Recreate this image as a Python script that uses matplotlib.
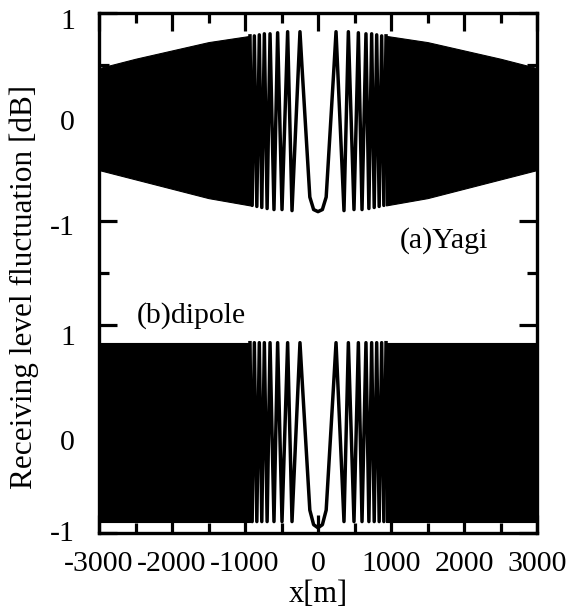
import numpy as np
import matplotlib.pyplot as plt
import matplotlib.transforms as mtrans
from matplotlib.ticker import MultipleLocator

plt.rcParams['font.family'] = 'Liberation Serif'
plt.rcParams['axes.unicode_minus'] = False

# ----- values (x >= 0 side, the pattern is symmetric) -----
# resolvable extrema of the fluctuation near the centre [m], [dB]
x_ext = [0, 60, 112, 178, 219, 247, 356, 416, 493, 553, 603, 657, 697, 735,
         770, 804, 838, 872, 902, 932]
yagi_ext = [-0.91, -0.89, -0.77, 0.0, 0.48, 0.82, -0.90, 0.82, -0.89, 0.81,
            -0.89, 0.80, -0.88, 0.80, -0.87, 0.79, -0.86, 0.78, -0.85, 0.78]
dipole_ext = [-0.95, -0.92, -0.78, 0.0, 0.49, 0.83, -0.89, 0.83, -0.89, 0.83,
              -0.89, 0.83, -0.89, 0.83, -0.89, 0.83, -0.89, 0.83, -0.89, 0.83]

# envelope of the dense (unresolvable) oscillation further out
x_band = [932, 1500, 2000, 2500, 3000]
yagi_up = [0.78, 0.72, 0.64, 0.56, 0.47]
yagi_lo = [-0.85, -0.78, -0.69, -0.60, -0.51]
dipole_up = [0.83, 0.83, 0.83, 0.83, 0.83]
dipole_lo = [-0.89, -0.89, -0.89, -0.89, -0.89]

yagi_offset = 3   # the Yagi trace is drawn shifted up
dipole_offset = 0

ytick_pos = [4, 3, 2, 1, 0, -1]
ytick_lab = ['1', '0', '-1', '1', '0', '-1']
ytick_shift = [9, 6, 7, 13, 14, 1]   # label offsets seen in the figure (px)


def mirror(x, y):
    x = np.asarray(x, float)
    y = np.asarray(y, float)
    return np.concatenate([-x[::-1], x[1:]]), np.concatenate([y[::-1], y[1:]])


fig = plt.figure(figsize=(5.66, 6.10), dpi=100)
ax = fig.add_axes([99 / 566, 1 - 533 / 610, 438 / 566, 520 / 610])

for ext, up, lo, off in [(yagi_ext, yagi_up, yagi_lo, yagi_offset),
                         (dipole_ext, dipole_up, dipole_lo, dipole_offset)]:
    xs, ys = mirror(x_ext, ext)
    ax.plot(xs, ys + off, color='black', lw=2.5, solid_joinstyle='round')
    xb = np.asarray(x_band, float)
    for sgn in (1, -1):
        ax.fill_between(sgn * xb, np.asarray(lo) + off, np.asarray(up) + off,
                        color='black', lw=0.8)

ax.set_xlim(-3000, 3000)
ax.set_ylim(-1, 4)
ax.xaxis.set_major_locator(MultipleLocator(1000))
ax.xaxis.set_minor_locator(MultipleLocator(500))
ax.set_yticks(ytick_pos)
ax.set_yticklabels([])
ax.yaxis.set_minor_locator(MultipleLocator(0.5))

# y labels sit a little below their ticks in the original
blend = mtrans.blended_transform_factory(ax.transAxes, ax.transData)
for pos, lab, dy in zip(ytick_pos, ytick_lab, ytick_shift):
    tr = blend + mtrans.ScaledTranslation(0, -dy / 100, fig.dpi_scale_trans)
    ax.text(-0.055, pos, lab, transform=tr, ha='right', va='center',
            fontsize=21.5, clip_on=False)

ax.tick_params(which='both', direction='in', top=True, right=True, width=2.3,
               labelsize=21.5)
ax.tick_params(which='major', length=13)
ax.tick_params(which='minor', length=7)
ax.tick_params(axis='x', pad=13)
for sp in ax.spines.values():
    sp.set_linewidth(2.4)

ax.set_xlabel('x[m]', fontsize=22, labelpad=2)
fig.text(24 / 566, 1 - 287 / 610, 'Receiving level fluctuation [dB]',
         rotation=90, fontsize=22.5, ha='center', va='center')

ax.text(444 / 566, 1 - 241 / 610, '(a)Yagi', transform=fig.transFigure,
        fontsize=21.5, ha='center', va='center')
ax.text(191 / 566, 1 - 316 / 610, '(b)dipole', transform=fig.transFigure,
        fontsize=21.5, ha='center', va='center')

fig.savefig('out.png', dpi=100)
